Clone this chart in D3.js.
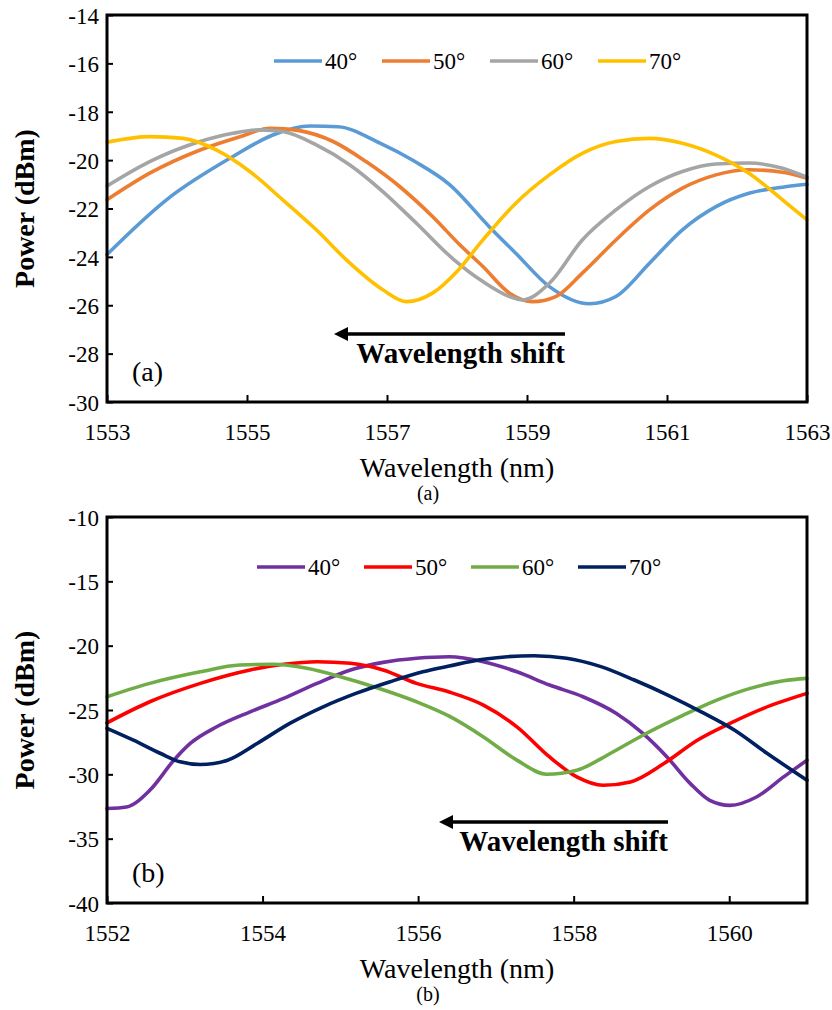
<!DOCTYPE html>
<meta charset="utf-8">
<style>
body { margin: 0; background: #fff; }
.frame { fill: none; stroke: #000; stroke-width: 3px; }
.tick line { stroke: #000; stroke-width: 2px; }
.series { fill: none; stroke-width: 3.6px; stroke-linejoin: round; stroke-linecap: round; }
</style>
<svg width="832" height="1010" font-family="Liberation Serif"></svg>
<script src="https://cdn.jsdelivr.net/npm/d3@7"></script>
<script>

var serif = "Liberation Serif";

// ---- panel (a) : wavelength (nm), power (dBm) ----
var a40 = [[1553,-23.9],[1553.85,-21.64],[1554.8,-19.85],[1555.37,-18.96],[1555.9,-18.59],[1556.3,-18.62],[1556.9,-19.3],[1557.4,-20.06],[1557.89,-21.0],[1558.46,-22.75],[1558.84,-23.85],[1559.32,-25.23],[1559.89,-25.94],[1560.27,-25.64],[1560.75,-24.26],[1561.22,-22.88],[1561.7,-21.92],[1562.17,-21.37],[1562.65,-21.12],[1563,-21.0]];
var a50 = [[1553,-21.64],[1553.61,-20.54],[1554.33,-19.58],[1554.9,-19.03],[1555.33,-18.68],[1555.75,-18.78],[1556.23,-19.23],[1556.7,-20.06],[1557.18,-21.09],[1557.65,-22.33],[1558.04,-23.5],[1558.37,-24.4],[1558.75,-25.5],[1559.08,-25.85],[1559.41,-25.64],[1559.79,-24.67],[1560.27,-23.3],[1560.75,-22.06],[1561.22,-21.16],[1561.7,-20.61],[1562.17,-20.4],[1562.65,-20.5],[1563,-20.75]];
var a60 = [[1553,-21.07],[1553.61,-20.06],[1554.33,-19.23],[1554.8,-18.89],[1555.18,-18.75],[1555.51,-18.82],[1555.99,-19.37],[1556.47,-20.2],[1556.94,-21.3],[1557.42,-22.61],[1557.95,-24.1],[1558.37,-25.02],[1558.75,-25.64],[1558.94,-25.78],[1559.32,-25.09],[1559.79,-23.3],[1560.27,-22.06],[1560.75,-21.09],[1561.22,-20.47],[1561.7,-20.16],[1562.17,-20.12],[1562.65,-20.34],[1563,-20.71]];
var a70 = [[1553,-19.26],[1553.61,-19.03],[1554.09,-19.1],[1554.56,-19.58],[1555.04,-20.47],[1555.51,-21.64],[1555.99,-22.88],[1556.47,-24.26],[1556.94,-25.36],[1557.28,-25.85],[1557.65,-25.5],[1558.0,-24.6],[1558.37,-23.3],[1558.84,-21.78],[1559.32,-20.61],[1559.79,-19.72],[1560.27,-19.23],[1560.75,-19.1],[1561.22,-19.3],[1561.7,-19.79],[1562.17,-20.54],[1562.65,-21.64],[1563,-22.47]];

// ---- panel (b) ----
var b40 = [[1552,-32.66],[1552.25,-32.54],[1552.55,-31.24],[1552.86,-28.9],[1553.07,-27.6],[1553.41,-26.3],[1553.84,-25.14],[1554.27,-24.1],[1554.7,-22.93],[1555.13,-21.89],[1555.55,-21.3],[1555.98,-20.98],[1556.4,-20.86],[1556.84,-21.25],[1557.27,-22.03],[1557.69,-23.06],[1558.12,-23.97],[1558.55,-25.27],[1558.89,-26.82],[1559.2,-28.65],[1559.5,-30.72],[1559.75,-32.02],[1560.01,-32.41],[1560.35,-31.76],[1560.7,-30.2],[1561,-28.9]];
var b50 = [[1552,-26.0],[1552.55,-24.36],[1553.2,-22.93],[1553.84,-21.89],[1554.27,-21.45],[1554.7,-21.25],[1555.13,-21.37],[1555.55,-21.89],[1555.98,-22.93],[1556.4,-23.6],[1556.84,-24.62],[1557.27,-26.31],[1557.69,-28.65],[1558.04,-30.2],[1558.38,-30.85],[1558.73,-30.59],[1559.16,-29.16],[1559.59,-27.35],[1560.01,-26.04],[1560.44,-24.87],[1561,-23.71]];
var b60 = [[1552,-23.97],[1552.55,-22.93],[1553.2,-22.03],[1553.71,-21.5],[1554.14,-21.45],[1554.57,-21.76],[1555.0,-22.41],[1555.43,-23.19],[1555.98,-24.36],[1556.4,-25.48],[1556.84,-27.09],[1557.27,-28.9],[1557.65,-29.99],[1558.04,-29.68],[1558.47,-28.38],[1558.89,-26.96],[1559.41,-25.4],[1559.84,-24.23],[1560.27,-23.32],[1560.7,-22.73],[1561,-22.54]];
var b70 = [[1552,-26.43],[1552.34,-27.35],[1552.69,-28.38],[1552.94,-29.03],[1553.2,-29.24],[1553.55,-28.9],[1553.93,-27.6],[1554.35,-26.04],[1554.78,-24.75],[1555.2,-23.71],[1555.64,-22.8],[1556.06,-22.03],[1556.4,-21.58],[1556.84,-21.06],[1557.49,-20.78],[1557.91,-20.98],[1558.35,-21.63],[1558.78,-22.67],[1559.21,-23.84],[1559.64,-25.14],[1560.07,-26.57],[1560.49,-28.38],[1561,-30.46]];

var labels = ["40°", "50°", "60°", "70°"];
var colorsA = ["#5B9BD5", "#ED7D31", "#A5A5A5", "#FFC000"];
var colorsB = ["#7030A0", "#FF0000", "#70AD47", "#002060"];

var xTicksA = [1553, 1555, 1557, 1559, 1561, 1563];
var yTicksA = [-30, -28, -26, -24, -22, -20, -18, -16, -14];
var xTicksB = [1552, 1554, 1556, 1558, 1560];
var yTicksB = [-40, -35, -30, -25, -20, -15, -10];

var svg = d3.select("svg");
svg.append("rect").attr("width", 832).attr("height", 1010).attr("fill", "#fff");

function txt(sel, size, bold) {
  return sel.attr("font-family", serif)
    .attr("font-size", size)
    .attr("font-weight", bold ? "bold" : "normal")
    .attr("fill", "#000");
}

function drawPanel(p) {
  var g = svg.append("g");
  var x = d3.scaleLinear().domain(p.xDomain).range([p.left, p.right]);
  var y = d3.scaleLinear().domain(p.yDomain).range([p.bottom, p.top]);

  var line = d3.line()
      .x(function(d) { return x(d[0]); })
      .y(function(d) { return y(d[1]); })
      .curve(d3.curveMonotoneX);

  g.selectAll("path.series")
    .data(p.series)
    .enter().append("path")
      .attr("class", "series")
      .attr("stroke", function(d, i) { return p.colors[i]; })
      .attr("d", line);

  // axes, ticks point inward
  var xAxis = g.append("g")
      .attr("transform", "translate(0," + p.bottom + ")")
      .call(d3.axisBottom(x).tickValues(p.xTicks).tickSizeInner(-7).tickSizeOuter(0).tickPadding(22).tickFormat(function(d) { return String(d); }));
  xAxis.select(".domain").remove();
  txt(xAxis, 23);
  txt(xAxis.selectAll("text"), 23);

  var yAxis = g.append("g")
      .attr("transform", "translate(" + p.left + ",0)")
      .call(d3.axisLeft(y).tickValues(p.yTicks).tickSizeInner(-6).tickSizeOuter(0).tickPadding(8).tickFormat(function(d) { return String(d); }));
  yAxis.select(".domain").remove();
  txt(yAxis, 23);
  txt(yAxis.selectAll("text"), 23).attr("dy", "0.36em");

  g.append("rect").attr("class", "frame")
      .attr("x", p.left).attr("y", p.top)
      .attr("width", p.right - p.left).attr("height", p.bottom - p.top);

  // legend
  var leg = g.selectAll("g.leg")
    .data(labels)
    .enter().append("g")
      .attr("class", "leg")
      .attr("transform", function(d, i) { return "translate(" + (p.legX + i * p.legStep) + "," + p.legY + ")"; });
  leg.append("line")
      .attr("x1", 0).attr("x2", 48)
      .attr("stroke", function(d, i) { return p.colors[i]; })
      .attr("stroke-width", 3.5);
  txt(leg.append("text"), 23)
      .attr("x", 51).attr("dy", "0.35em")
      .text(function(d) { return d; });

  // arrow + note
  g.append("line")
      .attr("x1", p.arrowX1 + 10).attr("x2", p.arrowX2)
      .attr("y1", p.arrowY).attr("y2", p.arrowY)
      .attr("stroke", "#000").attr("stroke-width", 3.5);
  g.append("path")
      .attr("d", "M" + p.arrowX1 + "," + p.arrowY + "l14,-7l0,14z")
      .attr("fill", "#000");
  txt(g.append("text"), 29, true)
      .attr("x", p.arrowX2).attr("y", p.arrowY + 29)
      .attr("text-anchor", "end")
      .text("Wavelength shift");

  txt(g.append("text"), 28)
      .attr("x", p.left + 25).attr("y", p.bottom - 21)
      .text(p.tag);

  // axis titles
  txt(g.append("text"), 28)
      .attr("x", (p.left + p.right) / 2).attr("y", p.bottom + 75)
      .attr("text-anchor", "middle")
      .text("Wavelength (nm)");
  txt(g.append("text"), 28, true)
      .attr("transform", "translate(34," + ((p.top + p.bottom) / 2) + ") rotate(-90)")
      .attr("text-anchor", "middle")
      .text("Power (dBm)");
  txt(g.append("text"), 20)
      .attr("x", 428).attr("y", p.bottom + 98)
      .attr("text-anchor", "middle")
      .text(p.tag);
}

drawPanel({
  series: [a40, a50, a60, a70], colors: colorsA, tag: "(a)",
  xDomain: [1553, 1563], yDomain: [-30, -14], xTicks: xTicksA, yTicks: yTicksA,
  left: 107, right: 807, top: 15, bottom: 402,
  legX: 274, legY: 61, legStep: 108,
  arrowX1: 334, arrowX2: 565, arrowY: 334
});

drawPanel({
  series: [b40, b50, b60, b70], colors: colorsB, tag: "(b)",
  xDomain: [1552, 1561], yDomain: [-40, -10], xTicks: xTicksB, yTicks: yTicksB,
  left: 107, right: 807, top: 517, bottom: 903,
  legX: 257, legY: 567, legStep: 107,
  arrowX1: 439, arrowX2: 668, arrowY: 822
});

</script>
